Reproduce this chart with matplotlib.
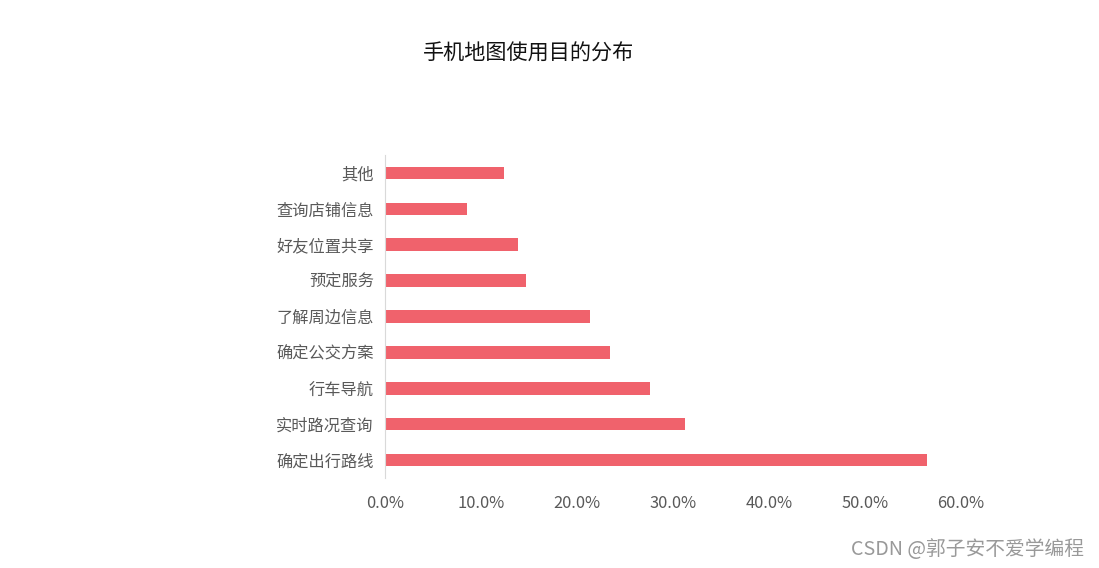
import matplotlib
matplotlib.use("Agg")
import matplotlib.pyplot as plt
from matplotlib.ticker import PercentFormatter

plt.rcParams['font.family'] = ['Noto Sans CJK SC', 'DejaVu Sans']

# categories from bottom to top
categories = ['确定出行路线', '实时路况查询', '行车导航', '确定公交方案',
              '了解周边信息', '预定服务', '好友位置共享', '查询店铺信息', '其他']
shares = [56.5, 31.2, 27.6, 23.4, 21.4, 14.7, 13.9, 8.5, 12.4]
xticks = [0, 10, 20, 30, 40, 50, 60]

fig = plt.figure(figsize=(10.99, 5.68), dpi=100)
ax = fig.add_axes([0.3503, 0.1585, 0.5242, 0.5686])

ax.barh(range(len(categories)), shares, height=0.35, color='#F0626C')
ax.set_yticks(range(len(categories)))
ax.set_yticklabels(categories)
ax.set_ylim(-0.5, len(categories) - 0.5)
ax.set_xlim(0, 60)
ax.set_xticks(xticks)
ax.xaxis.set_major_formatter(PercentFormatter(decimals=1))

for s in ['top', 'right', 'bottom']:
    ax.spines[s].set_visible(False)
ax.spines['left'].set_color('#D9D9D9')
ax.tick_params(axis='y', length=0, pad=8, labelsize=11.7, labelcolor='#595959')
ax.tick_params(axis='x', length=0, pad=12, labelsize=11.8, labelcolor='#595959')

fig.text(0.4805, 0.906, '手机地图使用目的分布', ha='center', va='center',
         fontsize=15.2, color='#111111')
fig.text(0.986, 0.033, 'CSDN @郭子安不爱学编程', ha='right', va='center',
         fontsize=14.2, color='#999999')

fig.savefig('out.png', dpi=100)
